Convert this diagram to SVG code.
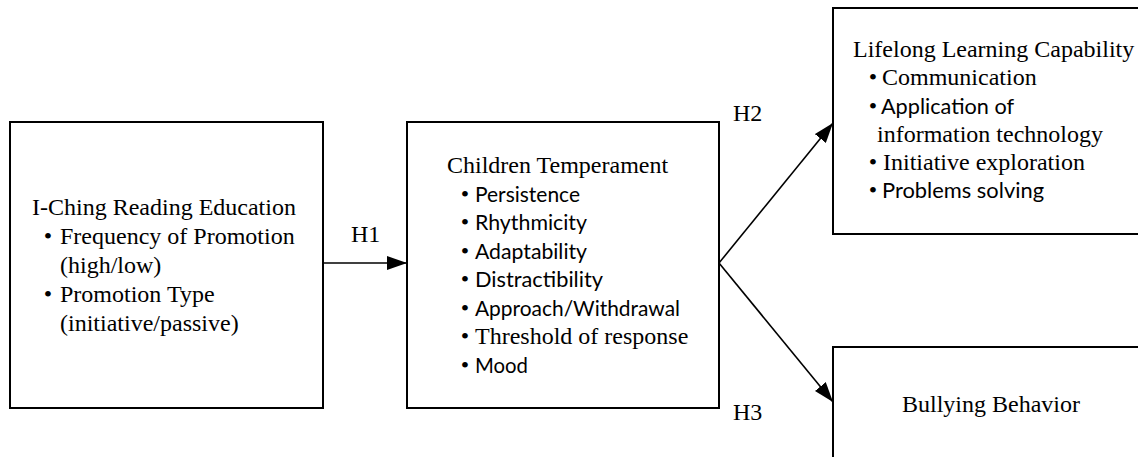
<svg xmlns="http://www.w3.org/2000/svg" width="1138" height="457" viewBox="0 0 1138 457">
<style>
.box{fill:#fff;stroke:#000;stroke-width:2}
.serif{font-family:"Liberation Serif","Times New Roman",serif;font-size:24px;fill:#000}
.sans{font-family:Lato,"Open Sans",sans-serif;font-size:22px;fill:#000}
.bul{font-family:"Liberation Serif",serif;font-size:24px;fill:#000;text-anchor:middle}
.conn{stroke:#000;stroke-width:1.6;fill:none;marker-end:url(#arr)}
</style>
<defs>
<marker id="arr" markerUnits="userSpaceOnUse" markerWidth="20" markerHeight="14" viewBox="0 0 20 14" refX="20" refY="7" orient="auto">
<path d="M0,0 L20,7 L0,14 z" fill="#000"/>
</marker>
</defs>
<rect width="1138" height="457" fill="#fff"/>
<g id="connectors">
<line class="conn" x1="323" y1="263" x2="407" y2="263"/>
<line class="conn" x1="719" y1="263" x2="833" y2="123"/>
<line class="conn" x1="719" y1="263" x2="833" y2="402"/>
<text class="serif" x="351" y="242">H1</text>
<text class="serif" x="733" y="121">H2</text>
<text class="serif" x="733" y="420">H3</text>
</g>
<g id="node-iching">
<rect class="box" x="10" y="122" width="313" height="286"/>
<text class="serif" x="32" y="215">I-Ching Reading Education</text>
<text class="bul" x="48" y="244">•</text>
<text class="serif" x="60" y="244">Frequency of Promotion</text>
<text class="serif" x="60" y="273">(high/low)</text>
<text class="bul" x="48" y="302">•</text>
<text class="serif" x="60" y="302">Promotion Type</text>
<text class="serif" x="60" y="331">(initiative/passive)</text>
</g>
<g id="node-temperament">
<rect class="box" x="407" y="122" width="312" height="286"/>
<text class="serif" x="447" y="173">Children Temperament</text>
<text class="bul" x="465" y="202">•</text>
<text class="sans" x="475" y="202" textLength="105" lengthAdjust="spacingAndGlyphs">Persistence</text>
<text class="bul" x="465" y="230">•</text>
<text class="sans" x="475" y="230" textLength="112" lengthAdjust="spacingAndGlyphs">Rhythmicity</text>
<text class="bul" x="465" y="259">•</text>
<text class="sans" x="475" y="259" textLength="112" lengthAdjust="spacingAndGlyphs">Adaptability</text>
<text class="bul" x="465" y="287">•</text>
<text class="sans" x="475" y="287" textLength="128" lengthAdjust="spacingAndGlyphs">Distractibility</text>
<text class="bul" x="465" y="316">•</text>
<text class="sans" x="475" y="316" textLength="205" lengthAdjust="spacingAndGlyphs">Approach/Withdrawal</text>
<text class="bul" x="465" y="344">•</text>
<text class="serif" x="475" y="344">Threshold of response</text>
<text class="bul" x="465" y="373">•</text>
<text class="sans" x="475" y="373" textLength="53" lengthAdjust="spacingAndGlyphs">Mood</text>
</g>
<g id="node-lifelong">
<rect class="box" x="833" y="8" width="320" height="226"/>
<text class="serif" x="853" y="57">Lifelong Learning Capability</text>
<text class="bul" x="873" y="85">•</text>
<text class="serif" x="882" y="85">Communication</text>
<text class="bul" x="873" y="114">•</text>
<text class="sans" x="881" y="114" textLength="133" lengthAdjust="spacingAndGlyphs">Application of</text>
<text class="serif" x="877" y="142">information technology</text>
<text class="bul" x="873" y="170">•</text>
<text class="serif" x="883" y="170">Initiative exploration</text>
<text class="bul" x="873" y="198">•</text>
<text class="sans" x="882" y="198" textLength="162" lengthAdjust="spacingAndGlyphs">Problems solving</text>
</g>
<g id="node-bullying">
<rect class="box" x="833" y="347" width="320" height="130"/>
<text class="serif" x="902" y="412">Bullying Behavior</text>
</g>
</svg>
